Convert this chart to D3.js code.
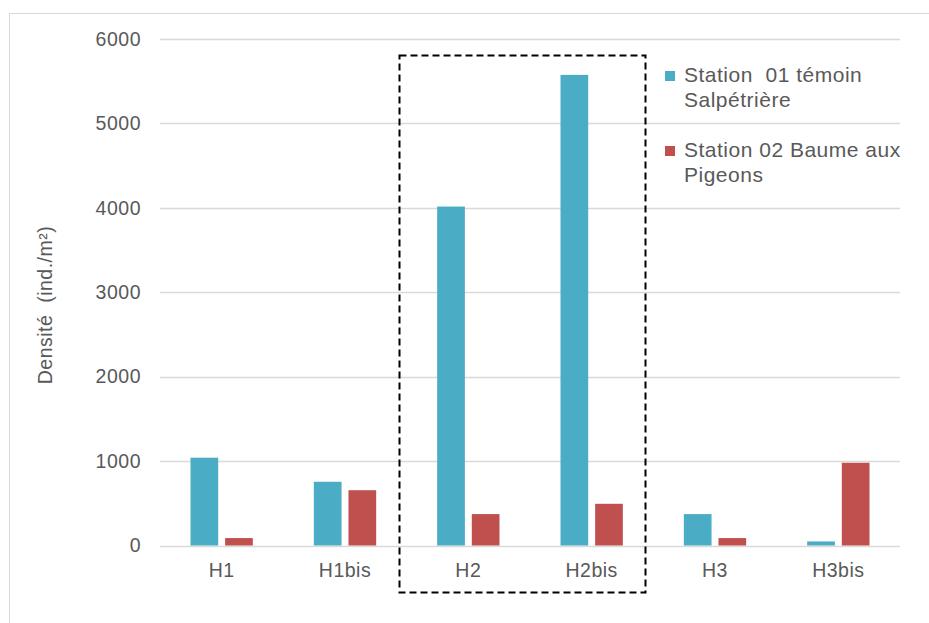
<!DOCTYPE html>
<html>
<head>
<meta charset="utf-8">
<script src="https://cdn.jsdelivr.net/npm/d3@7"></script>
<style>
html,body{margin:0;padding:0;background:#fff;}
svg{display:block;font-family:"Liberation Sans",Arial,sans-serif;}
text{letter-spacing:0.5px;}
</style>
</head>
<body>
<svg id="chart" width="929" height="623"></svg>
<script>
const categories = ["H1","H1bis","H2","H2bis","H3","H3bis"];
const seriesNames = ["Station  01 témoin\nSalpétrière","Station 02 Baume aux\nPigeons"];
const station01 = [1040, 755, 4015, 5575, 372, 48];
const station02 = [88, 655, 372, 494, 88, 980];
const yTicks = [0,1000,2000,3000,4000,5000,6000];
const colors = ["#4BACC6","#C0504D"];

(function(){
const svg = d3.select("#chart");
const pLeft = 160, pRight = 900, pTop = 39, pBottom = 545.5;

// outer frame
svg.append("rect").attr("x",9.5).attr("y",13.5).attr("width",940).attr("height",640)
  .attr("fill","none").attr("stroke","#d9d9d9").attr("stroke-width",1);

const x0 = d3.scaleBand().domain(categories).range([pLeft,pRight]).paddingInner(0).paddingOuter(0);
const x1 = d3.scaleBand().domain([0,1]).range([30.5, x0.bandwidth()-30.5]).paddingInner(0.2);
const y = d3.scaleLinear().domain([0,6000]).range([pBottom, pTop]);

// gridlines
svg.append("g").selectAll("line").data(yTicks).join("line")
  .attr("x1",pLeft).attr("x2",pRight)
  .attr("y1",d=>Math.round(y(d))+0.5).attr("y2",d=>Math.round(y(d))+0.5)
  .attr("stroke","#d9d9d9").attr("stroke-width",1.3);

// y axis labels
const yAxis = d3.axisLeft(y).tickValues(yTicks).tickFormat(d3.format("d")).tickSize(0).tickPadding(0);
const gy = svg.append("g").attr("transform",`translate(${141},0)`).call(yAxis);
gy.select(".domain").remove();
gy.selectAll("text").attr("font-size",19.5).attr("fill","#595959").attr("font-family","Liberation Sans, Arial, sans-serif");

// bars
const data = categories.map((c,i)=>({c, vals:[station01[i], station02[i]]}));
const groups = svg.append("g").selectAll("g").data(data).join("g")
  .attr("transform",d=>`translate(${x0(d.c)},0)`);
groups.selectAll("rect").data(d=>d.vals.map((v,k)=>({v,k}))).join("rect")
  .attr("x",d=>x1(d.k)).attr("width",x1.bandwidth())
  .attr("y",d=>y(d.v)).attr("height",d=>pBottom - y(d.v))
  .attr("fill",d=>colors[d.k]);

// x axis labels
const xAxis = d3.axisBottom(x0).tickSize(0).tickPadding(0);
const gx = svg.append("g").attr("transform",`translate(0,${pBottom})`).call(xAxis);
gx.select(".domain").remove();
gx.selectAll("text").attr("font-size",19.5).attr("fill","#595959").attr("dy",null).attr("y",31)
  .attr("font-family","Liberation Sans, Arial, sans-serif");

// axis title
svg.append("text").attr("transform","translate(52,305) rotate(-90)")
  .attr("text-anchor","middle").attr("font-size",19.5).attr("fill","#595959")
  .style("white-space","pre")
  .text("Densité  (ind./m²)");

// dashed highlight box
svg.append("rect").attr("x",399.5).attr("y",55.5).attr("width",246).attr("height",537)
  .attr("fill","none").attr("stroke","#000").attr("stroke-width",2).attr("stroke-dasharray","7,4");

// legend
const legend = svg.append("g");
const legY = [71, 146];
seriesNames.forEach((name,i)=>{
  legend.append("rect").attr("x",665).attr("y",legY[i]).attr("width",10).attr("height",10).attr("fill",colors[i]);
  const t = legend.append("text").attr("x",684).attr("y",legY[i]+11).attr("font-size",21)
    .attr("fill","#595959").style("white-space","pre");
  name.split("\n").forEach((ln,j)=>{
    t.append("tspan").attr("x",684).attr("dy",j===0?0:25).text(ln);
  });
});
})();
</script>
</body>
</html>
